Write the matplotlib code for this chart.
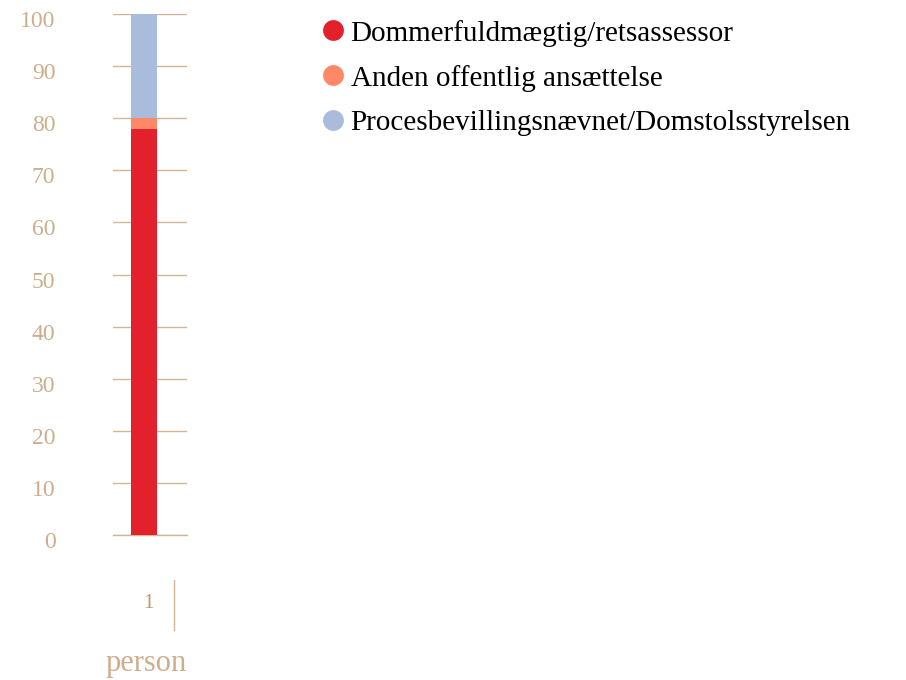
import matplotlib.pyplot as plt
from matplotlib.lines import Line2D
from matplotlib.transforms import ScaledTranslation

plt.rcParams["font.family"] = ["Liberation Serif", "DejaVu Serif"]

categories = ["1"]
series_names = [
    "Dommerfuldmægtig/retsassessor",
    "Anden offentlig ansættelse",
    "Procesbevillingsnævnet/Domstolsstyrelsen",
]
series_values = [[78], [2], [20]]
colors = ["#e3212d", "#ff8866", "#aabcdb"]
yticks = [0, 10, 20, 30, 40, 50, 60, 70, 80, 90, 100]

tan = "#d4b594"
label_col = "#cdae8c"

fig = plt.figure(figsize=(9.06, 6.8), dpi=100)
ax = fig.add_axes([113 / 906, 1 - 535 / 680, 74 / 906, 521 / 680])

x = range(len(categories))
bottom = [0] * len(categories)
for name, vals, col in zip(series_names, series_values, colors):
    ax.bar(x, vals, bottom=bottom, width=0.351, color=col, zorder=3, label=name)
    bottom = [b + v for b, v in zip(bottom, vals)]

ax.set_xlim(-0.419, 0.581)
ax.set_ylim(0, 100)
ax.set_yticks(yticks)
ax.set_yticklabels([str(t) for t in yticks], color=label_col, fontsize=17)
ax.tick_params(axis="y", length=0, pad=40)
shift = ScaledTranslation(-2 / 100, -5 / 100, fig.dpi_scale_trans)
for lbl in ax.get_yticklabels():
    lbl.set_transform(lbl.get_transform() + shift)
ax.yaxis.grid(True, color=tan, linewidth=1, zorder=0)
ax.axhline(0, color=tan, linewidth=1, zorder=1, clip_on=False)
for s in ax.spines.values():
    s.set_visible(False)
ax.set_xticks([])

# category label and separator below the plot
for i, c in enumerate(categories):
    ax.annotate(c, xy=(i, 0), xycoords=("data", "axes fraction"),
                xytext=(3, -49), textcoords="offset points",
                ha="center", va="center", color="#b8997a", fontsize=15)
fig.add_artist(Line2D([174 / 906, 174 / 906], [1 - 630 / 680, 1 - 580 / 680],
                      color=tan, linewidth=1))
fig.text(146 / 906, 1 - 663 / 680, "person", ha="center", va="center",
         color=label_col, fontsize=22)

handles = [Line2D([], [], marker="o", linestyle="none", markersize=15,
                  markerfacecolor=c, markeredgecolor="none") for c in colors]
fig.legend(handles, series_names, loc="upper left",
           bbox_to_anchor=(304 / 906, 1 - 8 / 680), frameon=False,
           fontsize=21, handletextpad=0.0, labelspacing=0.62,
           handlelength=1.2, borderaxespad=0)

fig.savefig("out.png", dpi=100)
